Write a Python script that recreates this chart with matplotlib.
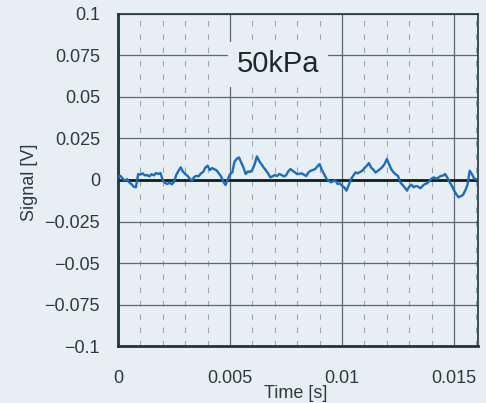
import matplotlib.pyplot as plt
import numpy as np
from matplotlib.ticker import MultipleLocator

# time axis, one sample per 0.1 ms
t_values = np.arange(161) * 0.0001

# signal [V]
signal_values = [
    0.0015, 0.0026, 0.0010, -0.0004, 0.0005, -0.0014, -0.0025, -0.0040, -0.0044, 0.0036,
    0.0032, 0.0040, 0.0028, 0.0030, 0.0022, 0.0035, 0.0028, 0.0042, 0.0036, 0.0042,
    -0.0004, -0.0018, -0.0024, -0.0016, -0.0026, -0.0012, 0.0030, 0.0055, 0.0076, 0.0050,
    0.0036, 0.0026, 0.0008, -0.0004, 0.0018, 0.0025, 0.0022, 0.0040, 0.0048, 0.0075,
    0.0086, 0.0060, 0.0072, 0.0065, 0.0058, 0.0040, 0.0022, -0.0010, -0.0030, 0.0005,
    0.0035, 0.0045, 0.0110, 0.0128, 0.0136, 0.0105, 0.0075, 0.0036, 0.0052, 0.0048,
    0.0062, 0.0095, 0.0142, 0.0115, 0.0095, 0.0076, 0.0058, 0.0040, 0.0016, 0.0022,
    0.0030, 0.0024, 0.0036, 0.0030, 0.0022, 0.0028, 0.0052, 0.0066, 0.0055, 0.0046,
    0.0035, 0.0038, 0.0040, 0.0032, 0.0024, 0.0045, 0.0056, 0.0060, 0.0066, 0.0082,
    0.0096, 0.0060, 0.0036, 0.0008, -0.0004, -0.0014, -0.0008, -0.0002, -0.0024, -0.0020,
    -0.0034, -0.0045, -0.0064, -0.0030, 0.0005, 0.0026, 0.0046, 0.0040, 0.0048, 0.0055,
    0.0072, 0.0085, 0.0102, 0.0075, 0.0062, 0.0045, 0.0055, 0.0066, 0.0078, 0.0096,
    0.0126, 0.0095, 0.0065, 0.0046, 0.0034, 0.0024, -0.0014, -0.0030, -0.0045, -0.0064,
    -0.0040, -0.0028, -0.0044, -0.0036, -0.0040, -0.0050, -0.0035, -0.0024, -0.0020, -0.0005,
    0.0008, 0.0016, 0.0008, 0.0014, 0.0024, 0.0026, 0.0036, 0.0015, -0.0012, -0.0034,
    -0.0062, -0.0085, -0.0104, -0.0098, -0.0090, -0.0064, -0.0030, 0.0056, 0.0035, 0.0008,
    0.0005,
]

y_ticks = [-0.1, -0.075, -0.05, -0.025, 0, 0.025, 0.05, 0.075, 0.1]
y_labels = ["\u22120.1", "\u22120.075", "\u22120.05", "\u22120.025", "0",
            "0.025", "0.05", "0.075", "0.1"]
x_ticks = [0, 0.005, 0.01, 0.015]
x_labels = ["0", "0.005", "0.01", "0.015"]

bg = "#e7eff4"
dark = "#1f3540"
plt.rcParams['font.family'] = ['Liberation Sans', 'DejaVu Sans']

fig = plt.figure(figsize=(4.86, 4.03), dpi=100, facecolor=bg)
ax = fig.add_axes([0.2428, 0.1414, 0.7407, 0.8239], facecolor=bg)

ax.set_xlim(0, 0.01607)
ax.set_ylim(-0.1, 0.1)

# grid: solid majors, dashed minor verticals
ax.set_xticks(x_ticks)
ax.set_xticklabels(x_labels)
ax.set_yticks(y_ticks)
ax.set_yticklabels(y_labels)
ax.xaxis.set_minor_locator(MultipleLocator(0.001))
ax.grid(True, which='major', color="#5a6a70", linewidth=0.9, linestyle='-')
ax.grid(True, which='minor', axis='x', color="#9aa8ae", linewidth=0.8,
        linestyle=(0, (5, 7)))
ax.set_axisbelow(True)

ax.tick_params(which='both', length=0)
ax.tick_params(axis='y', labelsize=13, pad=13, colors="#2a3a42")
ax.tick_params(axis='x', labelsize=13, pad=17, colors="#2a3a42")

ax.axhline(0, color="#10201c", linewidth=2.0, zorder=2)
ax.plot(t_values, signal_values, color="#1d6cc0", linewidth=1.7, zorder=3)

for side in ['left', 'bottom']:
    ax.spines[side].set_linewidth(2.0)
    ax.spines[side].set_color(dark)
for side in ['top', 'right']:
    ax.spines[side].set_linewidth(1.2)
    ax.spines[side].set_color(dark)

ax.text(0.444, 0.849, "50kPa", transform=ax.transAxes, fontsize=21,
        ha='center', va='center', color="#1c2a30", zorder=4,
        bbox=dict(facecolor=bg, edgecolor='none', pad=6))

fig.text(30 / 486, 1 - 182 / 403, "Signal [V]", rotation=90, fontsize=13,
         ha='center', va='center', color="#2a3a42")
fig.text(296 / 486, 1 - 393 / 403, "Time [s]", fontsize=13,
         ha='center', va='center', color="#2a3a42")

fig.savefig("out.png", dpi=100, facecolor=bg)
